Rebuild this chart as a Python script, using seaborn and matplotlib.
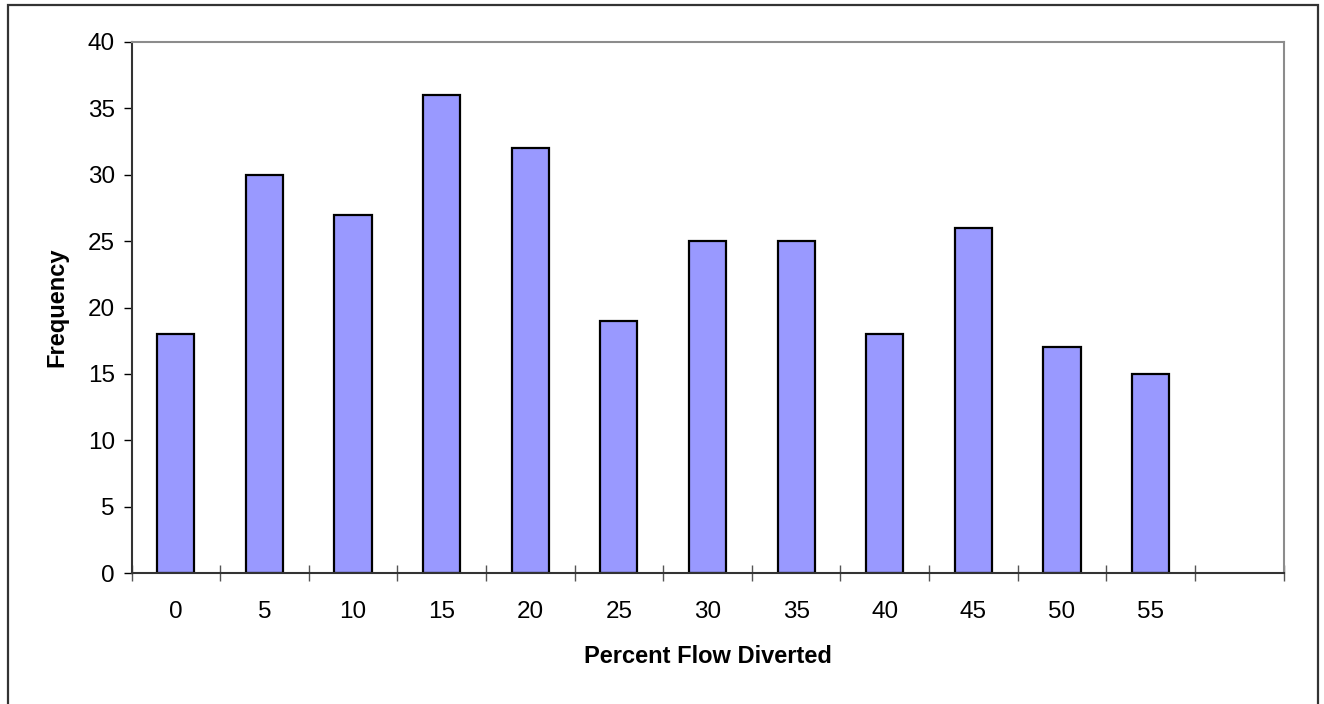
import matplotlib
matplotlib.use("Agg")
import matplotlib.pyplot as plt
import seaborn as sns
import pandas as pd
import numpy as np
from matplotlib.patches import Rectangle
from matplotlib.ticker import FixedLocator, NullFormatter

# Histogram of percent flow diverted
bins = ["0", "5", "10", "15", "20", "25", "30", "35", "40", "45", "50", "55"]
frequency = [18, 30, 27, 36, 32, 19, 25, 25, 18, 26, 17, 15]
y_ticks = [0, 5, 10, 15, 20, 25, 30, 35, 40]

sns.set_theme(style="white")
plt.rcParams["font.family"] = ["Liberation Sans", "DejaVu Sans"]
plt.rcParams["text.color"] = "black"
plt.rcParams["axes.labelcolor"] = "black"
plt.rcParams["xtick.color"] = "black"
plt.rcParams["ytick.color"] = "black"

df = pd.DataFrame({"bin": bins, "freq": frequency})

fig = plt.figure(figsize=(13.24, 7.04), dpi=100)
ax = fig.add_axes([131.5 / 1324, (704 - 573) / 704, 1152 / 1324, 531 / 704])

sns.barplot(data=df, x="bin", y="freq", order=bins, color="#9999FF",
            saturation=1, width=0.42, edgecolor="black", linewidth=1.6, ax=ax)

n_slots = len(bins) + 1
ax.set_xlim(-0.5, n_slots - 0.5)
ax.set_ylim(0, 40)
ax.set_yticks(y_ticks)
ax.set_yticklabels([str(v) for v in y_ticks], fontsize=17.5)

# category boundaries as major ticks, labels centred on minor ticks
ax.xaxis.set_major_locator(FixedLocator(np.arange(-0.5, n_slots, 1.0)))
ax.xaxis.set_major_formatter(NullFormatter())
ax.set_xticks(np.arange(len(bins)), minor=True)
ax.set_xticklabels(bins, minor=True, fontsize=17.5)
ax.tick_params(axis="x", which="major", direction="inout", length=12,
               width=1.0, color="#555555", bottom=True)
ax.tick_params(axis="x", which="minor", length=0, pad=20)
ax.tick_params(axis="y", which="major", direction="out", length=6,
               width=1.0, color="black", left=True, pad=6)

for side in ["left", "bottom"]:
    ax.spines[side].set_color("#333333")
    ax.spines[side].set_linewidth(1.5)
for side in ["top", "right"]:
    ax.spines[side].set_visible(True)
    ax.spines[side].set_color("#8c8c8c")
    ax.spines[side].set_linewidth(1.5)

ax.set_xlabel("Percent Flow Diverted", fontsize=17, fontweight="bold", labelpad=16)
ax.set_ylabel("Frequency", fontsize=17, fontweight="bold", labelpad=14)
ax.grid(False)

# outer chart border
fig.patches.append(Rectangle((8 / 1324, -0.05), 1310 / 1324, 1.05 - 5 / 704,
                             transform=fig.transFigure, fill=False,
                             edgecolor="#333333", linewidth=1.6))

fig.savefig("out.png", dpi=100)
